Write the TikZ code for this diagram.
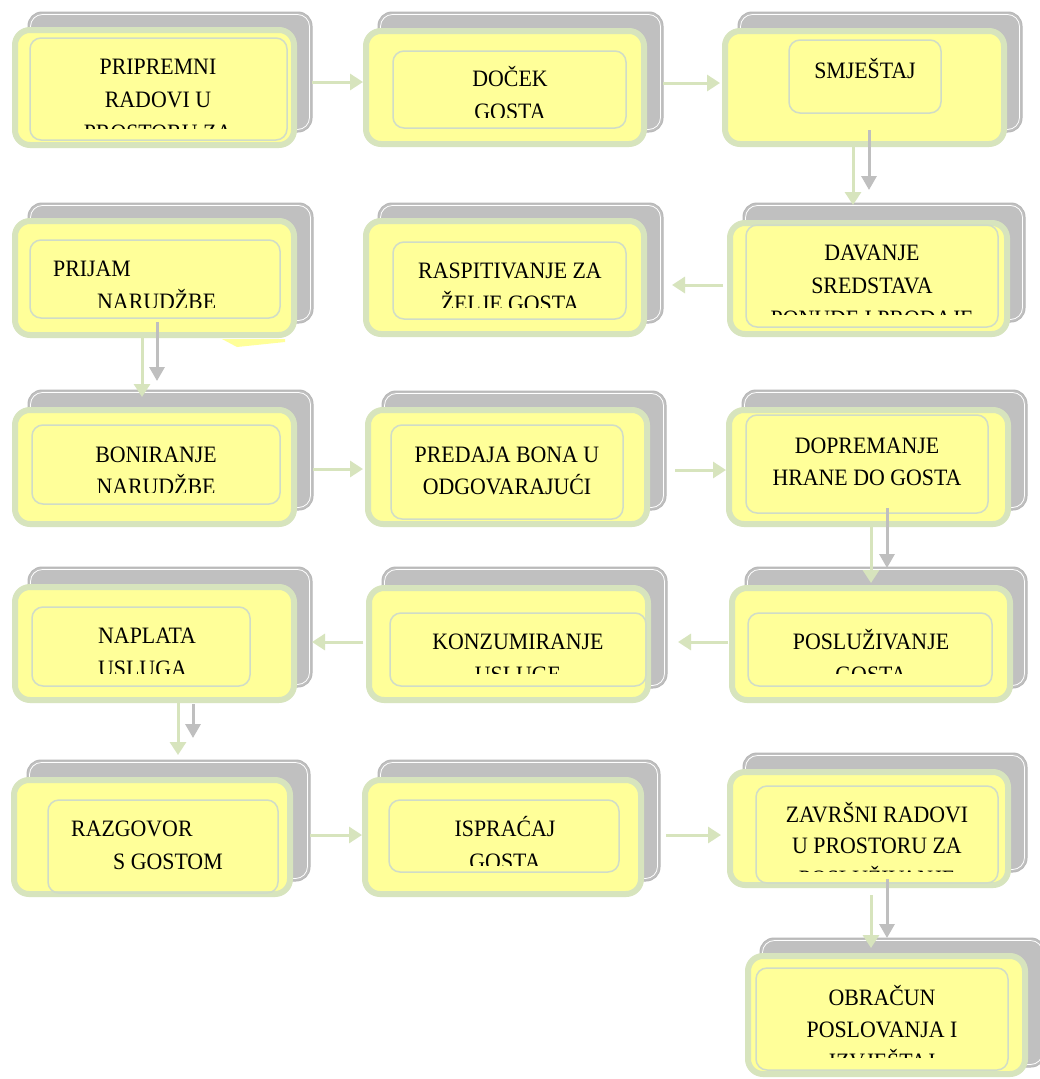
\documentclass[tikz,border=0pt]{standalone}
\usepackage{fontspec}
\setmainfont{Liberation Serif}[FakeStretch=0.93]
\usetikzlibrary{arrows.meta,fit,calc}
\definecolor{shadgray}{HTML}{C0C0C0}
\definecolor{shadedge}{HTML}{B8B8B8}
\definecolor{yfill}{HTML}{FFFF99}
\definecolor{gborder}{HTML}{D7E4BD}
\definecolor{iborder}{HTML}{D0DCC8}
\definecolor{arrgray}{HTML}{BFBFBF}
\tikzset{
  shadbox/.style={fill=shadgray, draw=shadedge, line width=1pt, rounded corners=14pt, inner sep=0pt, outer sep=0pt},
  shadline/.style={draw=white, line width=0.8pt, rounded corners=12pt},
  ybox/.style={fill=yfill, draw=gborder, line width=6pt, rounded corners=15pt, inner sep=0pt, outer sep=3pt},
  ibox/.style={draw=iborder, line width=1.5pt, rounded corners=11pt, inner sep=0pt, outer sep=0pt},
  txt/.style={inner sep=0pt, font=\fontsize{23.5}{33}\selectfont, text=black},
  garr/.style={draw=gborder, line width=3pt, -{Triangle[width=16pt,length=13pt]}},
  harr/.style={draw=arrgray, line width=3pt, -{Triangle[width=15pt,length=14pt]}},
}
\newcommand\procbox[4]{%
  \node[shadbox, fit={#2}] (s#1) {};
  \draw[shadline] ([shift={(2.5,-2.5)}]s#1.south west) rectangle ([shift={(-2.5,2.5)}]s#1.north east);
  \node[ybox, fit={#3}] (b#1) {};
  \node[ibox, fit={#4}] (i#1) {};
}
\begin{document}
\begin{tikzpicture}[x=1pt,y=-1pt]
\useasboundingbox[fill=white] (0,0) rectangle (1039,1079);

% boxes
\procbox{1}{(28,12) (312,132)}{(15,30) (294,145)}{(30,38) (287,140)}
\procbox{2}{(378,12) (663,132)}{(366,31) (644,144)}{(393,51) (626,128)}
\procbox{3}{(738,12) (1022,132)}{(725,31) (1004,144)}{(789,40) (941,113)}
\procbox{4}{(28,203) (313,323)}{(15,221) (294,335)}{(30,240) (280,318)}
\fill[yfill] (222,339) -- (285,339) -- (285,342) -- (237,347) -- cycle;
\procbox{5}{(378,203) (663,323)}{(366,221) (644,334)}{(393,242) (626,319)}
\procbox{6}{(743,203) (1025,322)}{(730,223) (1007,334)}{(746,225) (998,327)}
\procbox{7}{(28,390) (313,510)}{(15,410) (294,524)}{(32,425) (280,504)}
\procbox{8}{(382,391) (666,510)}{(368,410) (647,524)}{(391,425) (623,519)}
\procbox{9}{(742,390) (1027,510)}{(729,410) (1008,524)}{(746,415) (988,513)}
\procbox{10}{(28,567) (312,687)}{(15,587) (294,700)}{(32,607) (250,686)}
\procbox{11}{(382,567) (667,688)}{(369,588) (648,700)}{(390,613) (646,686)}
\procbox{12}{(745,567) (1027,688)}{(732,588) (1010,700)}{(748,613) (992,686)}
\procbox{13}{(27,760) (310,881)}{(14,780) (290,894)}{(48,800) (278,893)}
\procbox{14}{(378,760) (660,881)}{(365,780) (641,894)}{(389,800) (619,872)}
\procbox{15}{(743,753) (1027,872)}{(730,772) (1008,885)}{(756,786) (998,883)}
\procbox{16}{(760,938) (1045,1067)}{(748,956) (1025,1074)}{(756,968) (1008,1070)}

% texts
\begin{scope}
  \clip (0,40) rectangle (1039,128);
  \node[txt, anchor=base] (t1a) at (158,74) {PRIPREMNI};
  \node[txt, anchor=base] (t1b) at (158,107) {RADOVI U};
  \node[txt, anchor=base] (t1c) at (158,140) {PROSTORU ZA};
\end{scope}
\begin{scope}
  \clip (0,40) rectangle (1039,117);
  \node[txt, anchor=base] (t2a) at (510,86) {DOČEK};
  \node[txt, anchor=base] (t2b) at (510,119) {GOSTA};
\end{scope}
\node[txt, anchor=base] (t3a) at (865,78) {SMJEŠTAJ};
\begin{scope}
  \clip (0,230) rectangle (1039,307);
  \node[txt, anchor=base west] (t4a) at (53,276) {PRIJAM};
  \node[txt, anchor=base west] (t4b) at (97,309) {NARUDŽBE};
  \node[txt, anchor=base] (t5a) at (510,278) {RASPITIVANJE ZA};
  \node[txt, anchor=base] (t5b) at (510,311) {ŽELJE GOSTA};
\end{scope}
\begin{scope}
  \clip (0,230) rectangle (1039,314);
  \node[txt, anchor=base] (t6a) at (872,260) {DAVANJE};
  \node[txt, anchor=base] (t6b) at (872,293) {SREDSTAVA};
  \node[txt, anchor=base] (t6c) at (872,326) {PONUDE I PRODAJE};
\end{scope}
\begin{scope}
  \clip (0,420) rectangle (1039,492);
  \node[txt, anchor=base] (t7a) at (156,462) {BONIRANJE};
  \node[txt, anchor=base] (t7b) at (156,494) {NARUDŽBE};
\end{scope}
\node[txt, anchor=base] (t8a) at (507,462) {PREDAJA BONA U};
\node[txt, anchor=base] (t8b) at (507,494) {ODGOVARAJUĆI};
\node[txt, anchor=base] (t9a) at (867,453) {DOPREMANJE};
\node[txt, anchor=base] (t9b) at (867,485) {HRANE DO GOSTA};
\begin{scope}
  \clip (0,600) rectangle (1039,673);
  \node[txt, anchor=base west] (t10a) at (98,643) {NAPLATA};
  \node[txt, anchor=base west] (t10b) at (98,676) {USLUGA};
  \node[txt, anchor=base] (t11a) at (518,649) {KONZUMIRANJE};
  \node[txt, anchor=base] (t11b) at (518,682) {USLUGE};
  \node[txt, anchor=base] (t12a) at (871,649) {POSLUŽIVANJE};
  \node[txt, anchor=base] (t12b) at (871,682) {GOSTA};
\end{scope}
\node[txt, anchor=base west] (t13a) at (71,836) {RAZGOVOR};
\node[txt, anchor=base west] (t13b) at (113,869) {S GOSTOM};
\begin{scope}
  \clip (0,800) rectangle (700,865);
  \node[txt, anchor=base] (t14a) at (505,836) {ISPRAĆAJ};
  \node[txt, anchor=base] (t14b) at (505,869) {GOSTA};
\end{scope}
\begin{scope}
  \clip (700,790) rectangle (1039,871);
  \node[txt, anchor=base] (t15a) at (877,822) {ZAVRŠNI RADOVI};
  \node[txt, anchor=base] (t15b) at (877,853) {U PROSTORU ZA};
  \node[txt, anchor=base] (t15c) at (877,886) {POSLUŽIVANJE};
\end{scope}
\begin{scope}
  \clip (700,970) rectangle (1039,1057);
  \node[txt, anchor=base] (t16a) at (882,1005) {OBRAČUN};
  \node[txt, anchor=base] (t16b) at (882,1037) {POSLOVANJA I};
  \node[txt, anchor=base] (t16c) at (882,1069) {IZVJEŠTAJ};
\end{scope}

% connectors
\draw[garr] (s1.east |- 0,82) -- (b2.west |- 0,82);
\draw[garr] (s2.east |- 0,83) -- ($(b3.west |- 0,83)+(-2,0)$);
\draw[garr] (b3.south -| 853,0) -- ($(s6.north -| 853,0)+(0,2)$);
\draw[harr] ($(b3.south -| 869,0)+(0,-17)$) -- ($(s6.north -| 869,0)+(0,-13)$);
\draw[garr] ($(b6.west |- 0,285)+(-4,0)$) -- ($(s5.east |- 0,285)+(9,0)$);
\draw[garr] (b4.south -| 142,0) -- ($(s7.north -| 142,0)+(0,7)$);
\draw[harr] ($(b4.south -| 157,0)+(0,-16)$) -- ($(s7.north -| 157,0)+(0,-9)$);
\draw[garr] (s7.east |- 0,469) -- ($(b8.west |- 0,469)+(-2,0)$);
\draw[garr] ($(s8.east |- 0,470)+(9,0)$) -- (b9.west |- 0,470);
\draw[garr] (b9.south -| 871,0) -- ($(s12.north -| 871,0)+(0,16)$);
\draw[harr] ($(b9.south -| 887,0)+(0,-19)$) -- ($(s12.north -| 887,0)+(0,1)$);
\draw[garr] ($(b12.west |- 0,642)+(-1,0)$) -- ($(s11.east |- 0,642)+(11,0)$);
\draw[garr] ($(b11.west |- 0,642)+(-3,0)$) -- (s10.east |- 0,642);
\draw[garr] (b10.south -| 178,0) -- ($(s13.north -| 178,0)+(0,-5)$);
\draw[harr] ($(b10.south -| 193,0)+(0,1)$) -- ($(s13.north -| 193,0)+(0,-22)$);
\draw[garr] (s13.east |- 0,835) -- (b14.west |- 0,835);
\draw[garr] ($(s14.east |- 0,835)+(6,0)$) -- ($(b15.west |- 0,835)+(-6,0)$);
\draw[garr] ($(b15.south -| 871,0)+(0,7)$) -- ($(s16.north -| 871,0)+(0,10)$);
\draw[harr] ($(b15.south -| 887,0)+(0,-9)$) -- (s16.north -| 887,0);
\end{tikzpicture}
\end{document}
